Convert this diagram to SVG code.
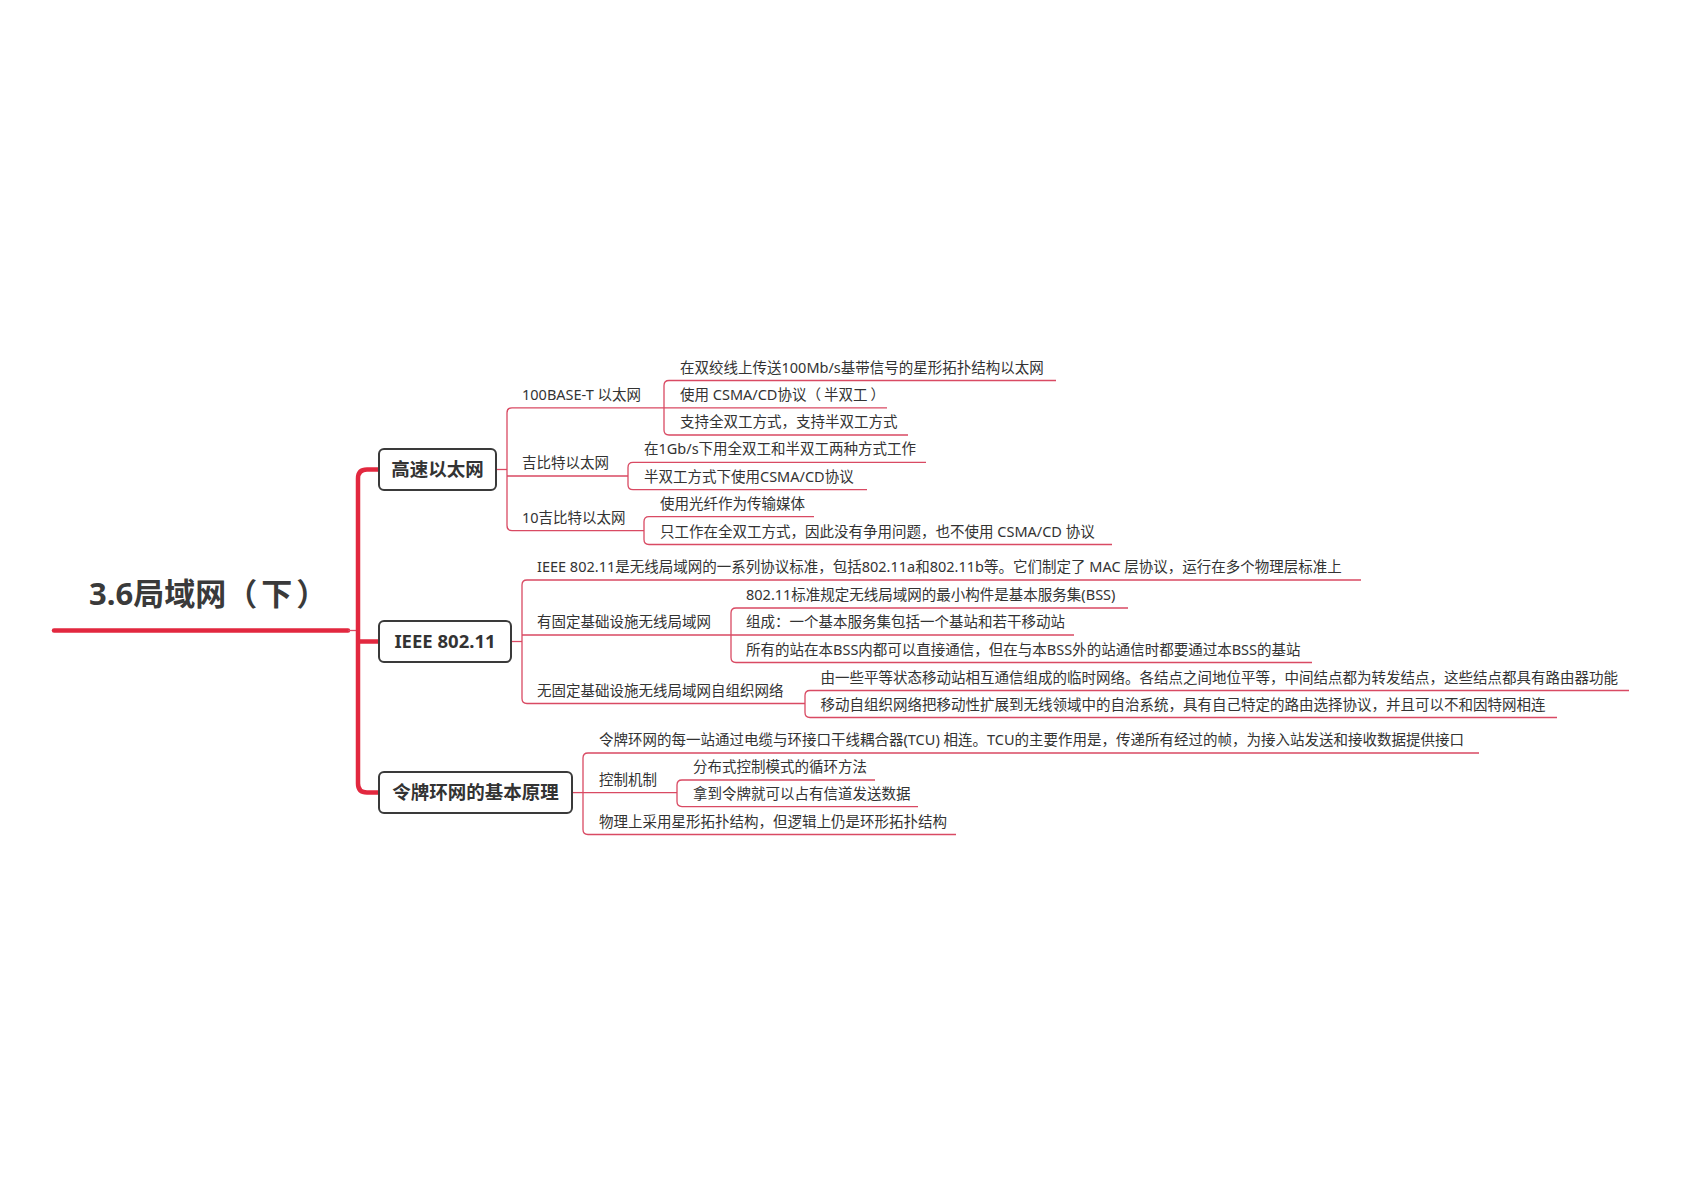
<svg xmlns="http://www.w3.org/2000/svg" width="1684" height="1190" viewBox="0 0 1684 1190">
<style>
.bg{fill:#ffffff}
.title{font-family:"Noto Sans","Noto Sans CJK SC",sans-serif;font-weight:bold;font-size:31px;fill:#3a3a3a}
.box{fill:#ffffff;stroke:#3a3a3a;stroke-width:2}
.sub{font-family:"Noto Sans","Noto Sans CJK SC",sans-serif;font-weight:bold;font-size:18.5px;fill:#333333}
.t{font-family:"Noto Sans","Noto Sans CJK SC",sans-serif;font-size:14.5px;fill:#333333}
.thick{fill:none;stroke:#e2283f;stroke-width:4.5;stroke-linecap:round}
.thin{fill:none;stroke:#d94a63;stroke-width:1.3}
</style>
<rect class="bg" x="0" y="0" width="1684" height="1190"/>

<g id="connectors">
  <path class="thick" d="M54,630.5 H348"/>
  <path class="thin" d="M348,630.5 H358"/>
  <path class="thick" d="M380,469.5 H367 Q358,469.5 358,478.5 V783.6 Q358,792.6 367,792.6 H380 M358,641.5 H380"/>
  <!-- group 1 -->
  <path class="thin" d="M496,469.5 H507"/>
  <path class="thin" d="M664,407.8 H512 Q507,407.8 507,412.8 V525.6 Q507,530.6 512,530.6 H644 M507,476 H628"/>
  <path class="thin" d="M1056,380.5 H669 Q664,380.5 664,385.5 V430 Q664,435 669,435 H908 M664,407.8 H887"/>
  <path class="thin" d="M926,462.4 H633 Q628,462.4 628,467.4 V484.7 Q628,489.7 633,489.7 H867"/>
  <path class="thin" d="M814,516.6 H649 Q644,516.6 644,521.6 V539.5 Q644,544.5 649,544.5 H1112"/>
  <!-- group 2 -->
  <path class="thin" d="M511,641.5 H522"/>
  <path class="thin" d="M1361,580 H527 Q522,580 522,585 V698.5 Q522,703.5 527,703.5 H805 M522,635 H731"/>
  <path class="thin" d="M1128,608 H736 Q731,608 731,613 V657.5 Q731,662.5 736,662.5 H1312 M731,635 H1074"/>
  <path class="thin" d="M1629,690.5 H810 Q805,690.5 805,695.5 V712.5 Q805,717.5 810,717.5 H1557"/>
  <!-- group 3 -->
  <path class="thin" d="M572.5,792.6 H583"/>
  <path class="thin" d="M1479,753 H588 Q583,753 583,758 V829.5 Q583,834.5 588,834.5 H956 M583,792.6 H677"/>
  <path class="thin" d="M875,780 H682 Q677,780 677,785 V801.6 Q677,806.6 682,806.6 H918"/>
</g>

<g id="root">
  <text class="title" x="89" y="605">3.6局域网（<tspan dx="4">下</tspan><tspan dx="4">）</tspan></text>
</g>

<g id="node-gaosu">
  <rect class="box" x="379" y="449" width="117" height="41" rx="5"/>
  <text class="sub" x="437.5" y="476" text-anchor="middle">高速以太网</text>
</g>
<g id="node-100base">
  <text class="t" x="522" y="400">100BASE-T 以太网</text>
</g>
<g id="node-100base-1"><text class="t" x="680" y="372.5">在双绞线上传送100Mb/s基带信号的星形拓扑结构以太网</text></g>
<g id="node-100base-2"><text class="t" x="680" y="400">使用 CSMA/CD协议（<tspan dx="3">半双工</tspan><tspan dx="3">）</tspan></text></g>
<g id="node-100base-3"><text class="t" x="680" y="427">支持全双工方式，支持半双工方式</text></g>
<g id="node-gbe"><text class="t" x="522" y="468">吉比特以太网</text></g>
<g id="node-gbe-1"><text class="t" x="644" y="454.4">在1Gb/s下用全双工和半双工两种方式工作</text></g>
<g id="node-gbe-2"><text class="t" x="644" y="481.7">半双工方式下使用CSMA/CD协议</text></g>
<g id="node-10gbe"><text class="t" x="522" y="522.6">10吉比特以太网</text></g>
<g id="node-10gbe-1"><text class="t" x="660" y="508.6">使用光纤作为传输媒体</text></g>
<g id="node-10gbe-2"><text class="t" x="660" y="536.5">只工作在全双工方式，因此没有争用问题，也不使用 CSMA/CD 协议</text></g>

<g id="node-ieee">
  <rect class="box" x="379" y="621" width="132" height="41" rx="5"/>
  <text class="sub" x="445" y="648" text-anchor="middle">IEEE 802.11</text>
</g>
<g id="node-ieee-1"><text class="t" x="537" y="572">IEEE 802.11是无线局域网的一系列协议标准，包括802.11a和802.11b等。它们制定了 MAC 层协议，运行在多个物理层标准上</text></g>
<g id="node-fixed"><text class="t" x="537" y="627">有固定基础设施无线局域网</text></g>
<g id="node-fixed-1"><text class="t" x="746" y="600">802.11标准规定无线局域网的最小构件是基本服务集(BSS)</text></g>
<g id="node-fixed-2"><text class="t" x="746" y="627">组成：一个基本服务集包括一个基站和若干移动站</text></g>
<g id="node-fixed-3"><text class="t" x="746" y="654.5">所有的站在本BSS内都可以直接通信，但在与本BSS外的站通信时都要通过本BSS的基站</text></g>
<g id="node-adhoc"><text class="t" x="537" y="695.5">无固定基础设施无线局域网自组织网络</text></g>
<g id="node-adhoc-1"><text class="t" x="820.5" y="682.5">由一些平等状态移动站相互通信组成的临时网络。各结点之间地位平等，中间结点都为转发结点，这些结点都具有路由器功能</text></g>
<g id="node-adhoc-2"><text class="t" x="820.5" y="709.5">移动自组织网络把移动性扩展到无线领域中的自治系统，具有自己特定的路由选择协议，并且可以不和因特网相连</text></g>

<g id="node-token">
  <rect class="box" x="379" y="772" width="193" height="41" rx="5"/>
  <text class="sub" x="475.5" y="799" text-anchor="middle">令牌环网的基本原理</text>
</g>
<g id="node-token-1"><text class="t" x="599" y="745">令牌环网的每一站通过电缆与环接口干线耦合器(TCU) 相连。TCU的主要作用是，传递所有经过的帧，为接入站发送和接收数据提供接口</text></g>
<g id="node-control"><text class="t" x="599" y="784.6">控制机制</text></g>
<g id="node-control-1"><text class="t" x="693" y="772">分布式控制模式的循环方法</text></g>
<g id="node-control-2"><text class="t" x="693" y="798.6">拿到令牌就可以占有信道发送数据</text></g>
<g id="node-token-3"><text class="t" x="599" y="826.5">物理上采用星形拓扑结构，但逻辑上仍是环形拓扑结构</text></g>
</svg>
